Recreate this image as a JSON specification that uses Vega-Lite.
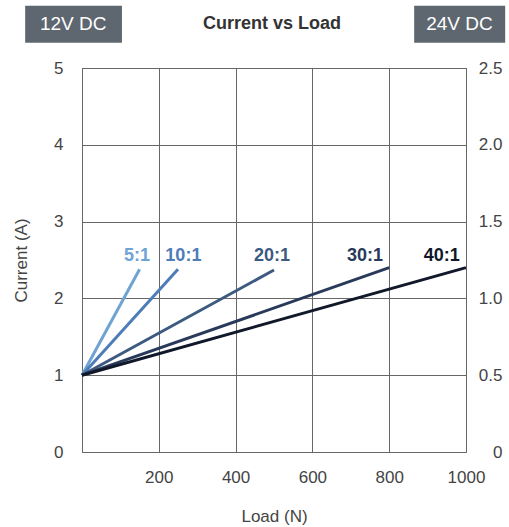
{
  "$schema": "https://vega.github.io/schema/vega-lite/v6.json",
  "width": 384,
  "height": 384,
  "autosize": {"type": "none"},
  "padding": {"left": 82, "top": 68, "right": 43, "bottom": 75},
  "background": "white",
  "config": {
    "font": "Liberation Sans",
    "view": {"stroke": "#666666", "strokeWidth": 1}
  },
  "datasets": {
    "lines": [
      {"ratio": "5:1", "load": 0, "current": 1},
      {"ratio": "5:1", "load": 150, "current": 2.38},
      {"ratio": "10:1", "load": 0, "current": 1},
      {"ratio": "10:1", "load": 250, "current": 2.38},
      {"ratio": "20:1", "load": 0, "current": 1},
      {"ratio": "20:1", "load": 500, "current": 2.37},
      {"ratio": "30:1", "load": 0, "current": 1},
      {"ratio": "30:1", "load": 800, "current": 2.4},
      {"ratio": "40:1", "load": 0, "current": 1},
      {"ratio": "40:1", "load": 1000, "current": 2.4}
    ],
    "labels": [
      {"ratio": "5:1", "load": 143, "current": 2.55},
      {"ratio": "10:1", "load": 264, "current": 2.55},
      {"ratio": "20:1", "load": 495, "current": 2.55},
      {"ratio": "30:1", "load": 737, "current": 2.55},
      {"ratio": "40:1", "load": 937, "current": 2.55}
    ],
    "headers": [
      {"label": "12V DC", "x0": -148, "x1": 104, "xc": -23, "y0": 5.33, "y1": 5.81, "yc": 5.57},
      {"label": "24V DC", "x0": 865, "x1": 1102, "xc": 983, "y0": 5.33, "y1": 5.81, "yc": 5.57}
    ],
    "title": [{"label": "Current vs Load", "x": 495, "y": 5.57}],
    "right": [{"v": 0}, {"v": 2.5}]
  },
  "layer": [
    {
      "layer": [
        {
          "data": {"name": "lines"},
          "mark": {"type": "line", "strokeWidth": 3},
          "encoding": {
            "x": {"field": "load", "type": "quantitative",
              "scale": {"domain": [0, 1000], "nice": false},
              "axis": {"values": [0, 200, 400, 600, 800, 1000], "format": "d", "labelExpr": "datum.value == 0 ? '' : datum.label", "labelFlush": false, "title": "Load (N)", "grid": true, "gridColor": "#666666", "gridOpacity": 1, "ticks": false, "domain": false, "labelFontSize": 17, "labelColor": "#444444", "labelPadding": 17, "titleFontSize": 17, "titleFontWeight": "normal", "titleColor": "#444444", "titlePadding": 23, "labelFont": "Liberation Sans", "titleFont": "Liberation Sans"}},
            "y": {"field": "current", "type": "quantitative",
              "scale": {"domain": [0, 5], "nice": false},
              "axis": {"values": [0, 1, 2, 3, 4, 5], "format": "d", "labelFlush": false, "title": "Current (A)", "grid": true, "gridColor": "#666666", "gridOpacity": 1, "ticks": false, "domain": false, "labelFontSize": 17, "labelColor": "#444444", "labelPadding": 19, "titleFontSize": 17, "titleFontWeight": "normal", "titleColor": "#444444", "titlePadding": 23, "labelFont": "Liberation Sans", "titleFont": "Liberation Sans"}},
            "detail": {"field": "ratio"},
            "color": {"field": "ratio", "type": "nominal",
              "scale": {"domain": ["5:1", "10:1", "20:1", "30:1", "40:1"], "range": ["#6fa3d3", "#4d7db8", "#3d5a80", "#28395a", "#10182a"]},
              "legend": null}
          }
        },
        {
          "data": {"name": "labels"},
          "mark": {"type": "text", "fontSize": 18, "fontWeight": "bold", "align": "center", "baseline": "middle", "font": "Liberation Sans"},
          "encoding": {
            "x": {"field": "load", "type": "quantitative"},
            "y": {"field": "current", "type": "quantitative"},
            "text": {"field": "ratio"},
            "color": {"field": "ratio", "type": "nominal", "legend": null}
          }
        },
        {
          "data": {"name": "headers"},
          "mark": {"type": "rect", "color": "#5e676f"},
          "encoding": {
            "x": {"field": "x0", "type": "quantitative"},
            "x2": {"field": "x1"},
            "y": {"field": "y0", "type": "quantitative"},
            "y2": {"field": "y1"}
          }
        },
        {
          "data": {"name": "headers"},
          "mark": {"type": "text", "fontSize": 19, "color": "white", "align": "center", "baseline": "middle", "font": "Liberation Sans"},
          "encoding": {
            "x": {"field": "xc", "type": "quantitative"},
            "y": {"field": "yc", "type": "quantitative"},
            "text": {"field": "label"}
          }
        },
        {
          "data": {"name": "title"},
          "mark": {"type": "text", "fontSize": 18, "fontWeight": "bold", "color": "#333333", "align": "center", "baseline": "middle", "font": "Liberation Sans"},
          "encoding": {
            "x": {"field": "x", "type": "quantitative"},
            "y": {"field": "y", "type": "quantitative"},
            "text": {"field": "label"}
          }
        }
      ]
    },
    {
      "data": {"name": "right"},
      "mark": {"type": "point", "opacity": 0},
      "encoding": {
        "y": {"field": "v", "type": "quantitative",
          "scale": {"domain": [0, 2.5], "nice": false},
          "axis": {"orient": "right", "values": [0, 0.5, 1, 1.5, 2, 2.5], "labelExpr": "datum.value == 0 ? '0' : format(datum.value, '.1f')", "labelFlush": false, "title": null, "grid": false, "ticks": false, "domain": false, "labelFontSize": 17, "labelColor": "#444444", "labelAlign": "right", "labelPadding": 36, "labelFont": "Liberation Sans"}}
      }
    }
  ],
  "resolve": {"scale": {"y": "independent"}, "axis": {"y": "independent"}}
}
